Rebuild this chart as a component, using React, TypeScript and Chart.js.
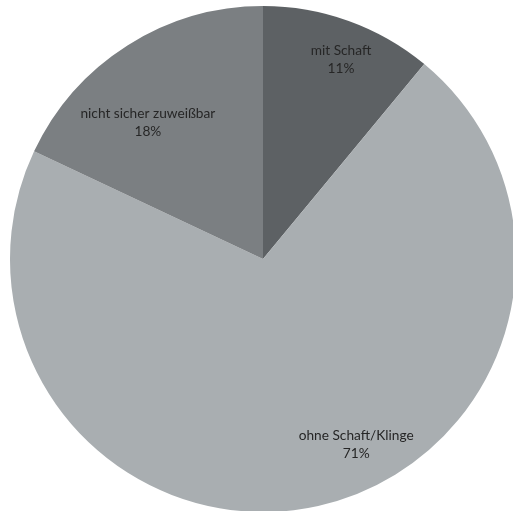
import React, { useEffect, useRef } from "react";
import { Chart, registerables } from "chart.js";

Chart.register(...registerables);

const categories = ["mit Schaft", "ohne Schaft/Klinge", "nicht sicher zuweißbar"];
const values = [11, 71, 18];
const percentLabels = ["11%", "71%", "18%"];
const colors = ["#5d6164", "#a9aeb1", "#7b7f82"];

// label placement relative to each slice (degrees offset from mid-angle, fraction of radius)
const labelAngleOffsetDeg = [1.6, -14.1, -7.8];
const labelRadiusFrac = [0.845, 0.82, 0.705];

const labelPlugin = {
  id: "sliceLabels",
  afterDatasetsDraw(chart: any) {
    const ctx = chart.ctx;
    const meta = chart.getDatasetMeta(0);
    ctx.save();
    ctx.font = "13.7px Lato, 'Open Sans', sans-serif";
    ctx.fillStyle = "#262626";
    ctx.textAlign = "center";
    ctx.textBaseline = "middle";
    meta.data.forEach((arc: any, i: number) => {
      const p = arc.getProps(["x", "y", "startAngle", "endAngle", "outerRadius"], true);
      const mid = (p.startAngle + p.endAngle) / 2 + (labelAngleOffsetDeg[i] * Math.PI) / 180;
      const r = p.outerRadius * labelRadiusFrac[i];
      const cx = p.x + Math.cos(mid) * r;
      const cy = p.y + Math.sin(mid) * r;
      ctx.fillText(categories[i], cx, cy - 9);
      ctx.fillText(percentLabels[i], cx, cy + 9);
    });
    ctx.restore();
  },
};

export default function App() {
  const ref = useRef<HTMLCanvasElement | null>(null);
  useEffect(() => {
    if (!ref.current) return;
    const chart = new Chart(ref.current, {
      type: "pie",
      data: {
        labels: categories,
        datasets: [
          {
            data: values,
            backgroundColor: colors,
            borderWidth: 0,
          },
        ],
      },
      options: {
        animation: false,
        responsive: false,
        maintainAspectRatio: false,
        layout: { padding: { left: 10, right: 10, top: 6, bottom: 6 } },
        plugins: {
          legend: { display: false },
          tooltip: { enabled: false },
        },
      },
      plugins: [labelPlugin],
    });
    return () => chart.destroy();
  }, []);
  return (
    <div
      style={{
        position: "fixed",
        left: 0,
        top: 0,
        width: 513,
        height: 511,
        overflow: "hidden",
        background: "#fff",
      }}
    >
      <canvas ref={ref} width={526} height={518} style={{ display: "block", width: 526, height: 518 }} />
    </div>
  );
}
